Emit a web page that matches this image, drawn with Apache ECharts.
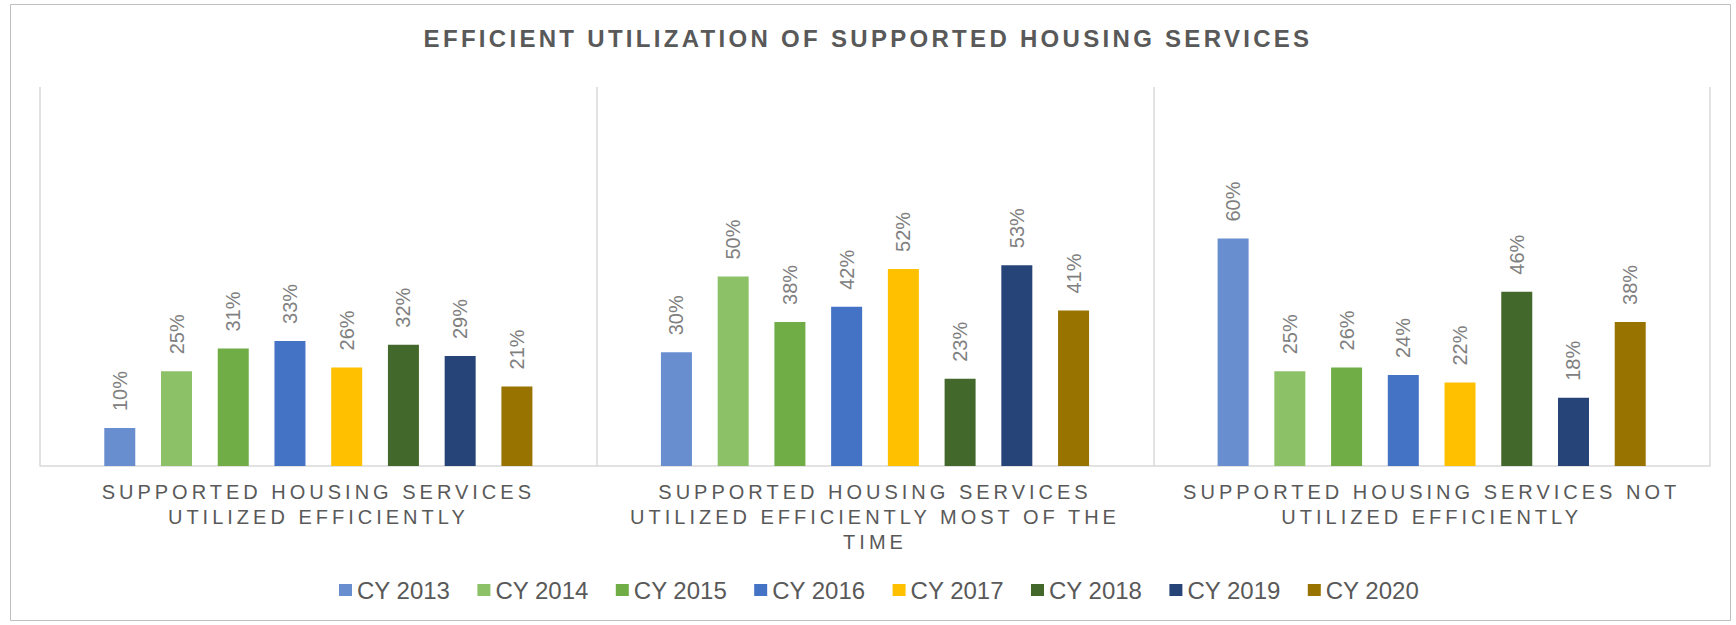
<!DOCTYPE html>
<html>
<head>
<meta charset="utf-8">
<script src="https://cdn.jsdelivr.net/npm/echarts@6/dist/echarts.min.js"></script>
<style>
  html, body { margin: 0; padding: 0; background: #fff; }
  #chart { width: 1736px; height: 625px; }
  /* wide tracking for title and category labels, like the original */
  #chart text[style*="Liberation"] { letter-spacing: 4px; }
  #chart text[style*="bold"][style*="Liberation"] { letter-spacing: 3.3px; }
</style>
</head>
<body>
<div id="chart"></div>
<script>
  const categories = [
    'SUPPORTED HOUSING SERVICES\nUTILIZED EFFICIENTLY',
    'SUPPORTED HOUSING SERVICES\nUTILIZED EFFICIENTLY MOST OF THE\nTIME',
    'SUPPORTED HOUSING SERVICES NOT\nUTILIZED EFFICIENTLY'
  ];
  const years = ['CY 2013', 'CY 2014', 'CY 2015', 'CY 2016', 'CY 2017', 'CY 2018', 'CY 2019', 'CY 2020'];
  const cy2013 = [10, 30, 60];
  const cy2014 = [25, 50, 25];
  const cy2015 = [31, 38, 26];
  const cy2016 = [33, 42, 24];
  const cy2017 = [26, 52, 22];
  const cy2018 = [32, 23, 46];
  const cy2019 = [29, 53, 18];
  const cy2020 = [21, 41, 38];
  const seriesValues = [cy2013, cy2014, cy2015, cy2016, cy2017, cy2018, cy2019, cy2020];
  const colors = ['#698ed0', '#8cc168', '#70ad47', '#4472c4', '#ffc000', '#43682b', '#264478', '#997300'];

  const chart = echarts.init(document.getElementById('chart'), null, {renderer: 'svg'});

  const series = years.map((name, i) => ({
    name: name,
    type: 'bar',
    data: seriesValues[i],
    barWidth: 31,
    barGap: '83%',
    itemStyle: {color: colors[i]},
    label: {
      show: true,
      position: 'top',
      rotate: 90,
      align: 'left',
      verticalAlign: 'middle',
      distance: 17,
      formatter: '{c}%',
      fontFamily: 'Arial',
      fontSize: 20,
      color: '#808080'
    }
  }));

  chart.setOption({
    animation: false,
    backgroundColor: '#fff',
    color: colors,
    title: {
      text: 'EFFICIENT UTILIZATION OF SUPPORTED HOUSING SERVICES',
      left: 'center',
      top: 21,
      textStyle: {
        fontFamily: 'Liberation Sans',
        fontWeight: 'bold',
        fontSize: 24,
        color: '#595959'
      }
    },
    graphic: [{
      type: 'rect',
      shape: {x: 10.5, y: 4.5, width: 1720, height: 616},
      style: {fill: 'none', stroke: '#bfbfbf', lineWidth: 1},
      silent: true
    }],
    legend: {
      data: years,
      left: 339,
      top: 578,
      padding: 0,
      icon: 'rect',
      itemWidth: 13,
      itemHeight: 12,
      itemGap: 27,
      textStyle: {fontFamily: 'Arial', fontSize: 24, color: '#595959'}
    },
    grid: {left: 40, right: 26, top: 87, bottom: 159},
    xAxis: {
      type: 'category',
      data: categories,
      axisLine: {lineStyle: {color: '#d9d9d9', width: 1.5}},
      axisTick: {show: false},
      splitLine: {show: true, lineStyle: {color: '#d9d9d9', width: 1.5}},
      axisLabel: {
        interval: 0,
        margin: 13,
        fontFamily: 'Liberation Sans',
        fontSize: 20,
        lineHeight: 25,
        color: '#595959'
      }
    },
    yAxis: {
      type: 'value',
      min: 0,
      max: 100,
      show: false,
      splitLine: {show: false}
    },
    series: series
  });
</script>
</body>
</html>
